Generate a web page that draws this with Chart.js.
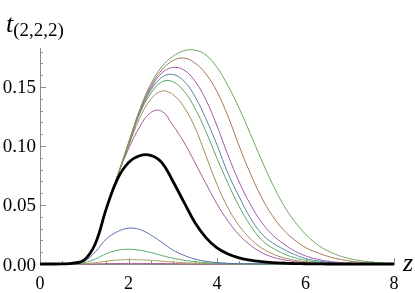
<!DOCTYPE html>
<html>
<head>
<meta charset="utf-8">
<script src="https://cdn.jsdelivr.net/npm/chart.js@4.4.0/dist/chart.umd.min.js"></script>
<style>
  body { margin: 0; background: #fff; }
  #wrap { position: relative; width: 415px; height: 293px; overflow: hidden; }
  .lab { position: absolute; font-family: 'Liberation Serif', 'Times New Roman', serif; color: #000; white-space: nowrap; }
  #ylab { left: 6px; top: 11px; font-size: 26px; line-height: 26px; }
  #ylab i { font-style: italic; }
  #ylab span { font-size: 19px; position: relative; top: 4px; }
  #xlab { left: 403px; top: 250px; font-size: 26px; line-height: 26px; font-style: italic; }
  .xt { font-size: 18px; line-height: 18px; transform: translateX(-50%); }
  .yt { font-size: 19px; line-height: 19px; text-align: right; }
</style>
</head>
<body>
<div id="wrap">
  <canvas id="myChart" width="415" height="293"></canvas>
  <div class="lab" id="ylab"><i>t</i><span>(2,2,2)</span></div>
  <div class="lab" id="xlab">z</div>
</div>
<script>
const zGrid = [0, 0.25, 0.5, 0.75, 1, 1.25, 1.5, 1.75, 2, 2.25, 2.5, 2.75, 3, 3.25, 3.5, 3.75, 4,
    4.25, 4.5, 4.75, 5, 5.25, 5.5, 5.75, 6, 6.25, 6.5, 6.75, 7, 7.25, 7.5, 7.75, 8];

const blackCurve = [0, 0, 0.0001, 0.0007, 0.0034, 0.0172, 0.0471, 0.0720, 0.0859, 0.0917, 0.0921, 0.0861, 0.0703,
    0.0526, 0.0352, 0.0224, 0.0136, 0.0085, 0.0052, 0.0032, 0.0020, 0.0012, 0.0007, 0.0004, 0.0002, 0.0001,
    0, 0, 0, 0, 0, 0, 0];

const c1 = [0, 0, 0, 0, 0, 0.0001, 0.0003, 0.0004, 0.0005, 0.0005, 0.0004, 0.0004, 0.0003, 0.0002, 0.0001, 0.0001,
    0, 0, 0, 0, 0, 0, 0, 0, 0, 0, 0, 0, 0, 0, 0, 0, 0];
const c2 = [0, 0, 0, 0, 0.0003, 0.0011, 0.0024, 0.0033, 0.0037, 0.0035, 0.0031, 0.0024, 0.0017, 0.0011, 0.0007,
    0.0004, 0.0002, 0.0001, 0.0001, 0, 0, 0, 0, 0, 0, 0, 0, 0, 0, 0, 0, 0, 0];
const c3 = [0, 0, 0, 0.0001, 0.0011, 0.0042, 0.0088, 0.0116, 0.0125, 0.0117, 0.0098, 0.0072, 0.0049, 0.0032, 0.0020,
    0.0011, 0.0006, 0.0003, 0.0001, 0, 0, 0, 0, 0, 0, 0, 0, 0, 0, 0, 0, 0, 0];
const c4 = [0, 0, 0, 0.0002, 0.0023, 0.0103, 0.0212, 0.0274, 0.0303, 0.0293, 0.0247, 0.0185, 0.0119, 0.0074, 0.0042,
    0.0023, 0.0012, 0.0006, 0.0003, 0.0002, 0.0001, 0, 0, 0, 0, 0, 0, 0, 0, 0, 0, 0, 0];
const c5 = [0, 0, 0.0001, 0.0007, 0.0034, 0.0172, 0.0475, 0.0745, 0.0974, 0.1160, 0.1283, 0.1295, 0.1176, 0.1034,
    0.0860, 0.0681, 0.0509, 0.0363, 0.0247, 0.0160, 0.0099, 0.0059, 0.0036, 0.0021, 0.0012, 0.0007, 0.0004,
    0.0002, 0.0001, 0, 0, 0, 0];
const c6 = [0, 0, 0.0001, 0.0007, 0.0034, 0.0172, 0.0475, 0.0745, 0.0999, 0.1233, 0.1394, 0.1465, 0.1436, 0.1332,
    0.1158, 0.0918, 0.0674, 0.0474, 0.0324, 0.0215, 0.0138, 0.0087, 0.0053, 0.0032, 0.0018, 0.0010, 0.0006,
    0.0003, 0.0001, 0, 0, 0, 0];
const c7 = [0, 0, 0.0001, 0.0007, 0.0034, 0.0172, 0.0475, 0.0745, 0.1006, 0.1270, 0.1441, 0.1543, 0.1545, 0.1466,
    0.1321, 0.1122, 0.0895, 0.0682, 0.0488, 0.0329, 0.0207, 0.0137, 0.0088, 0.0054, 0.0031, 0.0018, 0.0010,
    0.0005, 0.0002, 0.0001, 0, 0, 0];
const c8 = [0, 0, 0.0001, 0.0007, 0.0034, 0.0172, 0.0475, 0.0745, 0.1016, 0.1279, 0.1468, 0.1581, 0.1606, 0.1551,
    0.1420, 0.1230, 0.1009, 0.0767, 0.0571, 0.0393, 0.0260, 0.0180, 0.0126, 0.0081, 0.0047, 0.0028, 0.0016,
    0.0008, 0.0004, 0.0002, 0.0001, 0, 0];
const c9 = [0, 0, 0.0001, 0.0007, 0.0034, 0.0172, 0.0475, 0.0745, 0.1016, 0.1287, 0.1486, 0.1617, 0.1665, 0.1644,
    0.1550, 0.1390, 0.1170, 0.0920, 0.0695, 0.0508, 0.0358, 0.0248, 0.0172, 0.0111, 0.0069, 0.0042, 0.0024,
    0.0013, 0.0007, 0.0003, 0.0001, 0, 0];
const c10 = [0, 0, 0.0001, 0.0007, 0.0034, 0.0172, 0.0475, 0.0745, 0.1026, 0.1297, 0.1504, 0.1643, 0.1722, 0.1745,
    0.1703, 0.1610, 0.1460, 0.1250, 0.1000, 0.0770, 0.0570, 0.0410, 0.0290, 0.0205, 0.0140, 0.0098, 0.0065,
    0.0042, 0.0025, 0.0014, 0.0006, 0.0003, 0.0001];
const c11 = [0, 0, 0.0001, 0.0007, 0.0034, 0.0172, 0.0475, 0.0745, 0.1026, 0.1305, 0.1523, 0.1671, 0.1759, 0.1806,
    0.1812, 0.1771, 0.1666, 0.1509, 0.1320, 0.1106, 0.0886, 0.0681, 0.0502, 0.0362, 0.0253, 0.0170, 0.0112,
    0.0072, 0.0045, 0.0028, 0.0016, 0.0008, 0.0004];

const xTicks = [0, 2, 4, 6, 8];
const yTicks = [0, 0.05, 0.10, 0.15];
const yTickLabels = ['0.00', '0.05', '0.10', '0.15'];
const xMinorTicks = [0, 0.5, 1, 1.5, 2, 2.5, 3, 3.5, 4, 4.5, 5, 5.5, 6, 6.5, 7, 7.5, 8];
const yMinorTicks = [0, 0.01, 0.02, 0.03, 0.04, 0.05, 0.06, 0.07, 0.08, 0.09, 0.10,
    0.11, 0.12, 0.13, 0.14, 0.15, 0.16, 0.17, 0.18];

const thinCurves = [c1, c2, c3, c4, c5, c6, c7, c8, c9, c10, c11];
const thinColors = ['rgb(168,90,134)', 'rgb(168,158,90)', 'rgb(90,168,114)', 'rgb(90,111,168)',
    'rgb(168,90,156)', 'rgb(168,137,90)', 'rgb(90,168,93)', 'rgb(90,132,168)',
    'rgb(161,90,168)', 'rgb(168,117,90)', 'rgb(107,168,90)'];
const axisColor = '#8c8c8c';

function toPoints(values) {
    return zGrid.map((z, i) => ({ x: z, y: values[i] }));
}

function createDataset(values, color, width) {
    return {
        data: toPoints(values),
        borderColor: color,
        borderWidth: width,
        pointRadius: 0,
        fill: false,
        tension: 0.4,
        clip: false
    };
}

// tick marks pointing into the plot, long on labelled values
const insideTicks = {
    id: 'insideTicks',
    beforeDatasetsDraw(chart) {
        const { ctx, scales: { x, y } } = chart;
        ctx.save();
        ctx.strokeStyle = axisColor;
        ctx.lineWidth = 1;
        ctx.beginPath();
        xMinorTicks.forEach(v => {
            const px = Math.round(x.getPixelForValue(v)) + 0.5;
            const len = xTicks.includes(v) ? 6 : 3;
            ctx.moveTo(px, y.bottom);
            ctx.lineTo(px, y.bottom - len);
        });
        yMinorTicks.forEach(v => {
            const py = Math.round(y.getPixelForValue(v)) + 0.5;
            const len = yTicks.some(t => Math.abs(t - v) < 1e-9) ? 6 : 3;
            ctx.moveTo(x.left, py);
            ctx.lineTo(x.left + len, py);
        });
        ctx.stroke();
        ctx.restore();
    }
};

// serif tick labels as page text, placed with the chart's scales
function placeTickLabels(chart) {
    const wrap = document.getElementById('wrap');
    const { x, y } = chart.scales;
    xTicks.forEach(v => {
        const d = document.createElement('div');
        d.className = 'lab xt';
        d.textContent = String(v);
        d.style.left = x.getPixelForValue(v) + 'px';
        d.style.top = (y.bottom + 9.5) + 'px';
        wrap.appendChild(d);
    });
    yTicks.forEach((v, i) => {
        const d = document.createElement('div');
        d.className = 'lab yt';
        d.textContent = yTickLabels[i];
        d.style.right = (415 - (x.left - 4)) + 'px';
        d.style.top = (y.getPixelForValue(v) - 9.5) + 'px';
        wrap.appendChild(d);
    });
}

generateChart();

function generateChart() {
    const datasets = [createDataset(blackCurve, '#000', 2.8)];
    for (let i = thinCurves.length - 1; i >= 0; i--) {
        datasets.push(createDataset(thinCurves[i], thinColors[i], 1));
    }

    const chart = new Chart(document.getElementById('myChart'), {
        type: 'line',
        data: { datasets: datasets },
        plugins: [insideTicks],
        options: {
            responsive: false,
            animation: false,
            devicePixelRatio: 1,
            layout: { padding: { top: 48, right: 21, left: 0, bottom: 0 } },
            scales: {
                x: {
                    type: 'linear',
                    min: 0,
                    max: 8,
                    grid: { display: false, drawTicks: false },
                    border: { display: true, color: axisColor, width: 1 },
                    ticks: { display: false },
                    afterFit: s => { s.height = 29; }
                },
                y: {
                    min: 0,
                    max: 0.183,
                    grid: { display: false, drawTicks: false },
                    border: { display: true, color: axisColor, width: 1 },
                    ticks: { display: false },
                    afterFit: s => { s.width = 40; }
                }
            },
            plugins: {
                legend: { display: false },
                tooltip: { enabled: false }
            }
        }
    });
    placeTickLabels(chart);
}
</script>
</body>
</html>
